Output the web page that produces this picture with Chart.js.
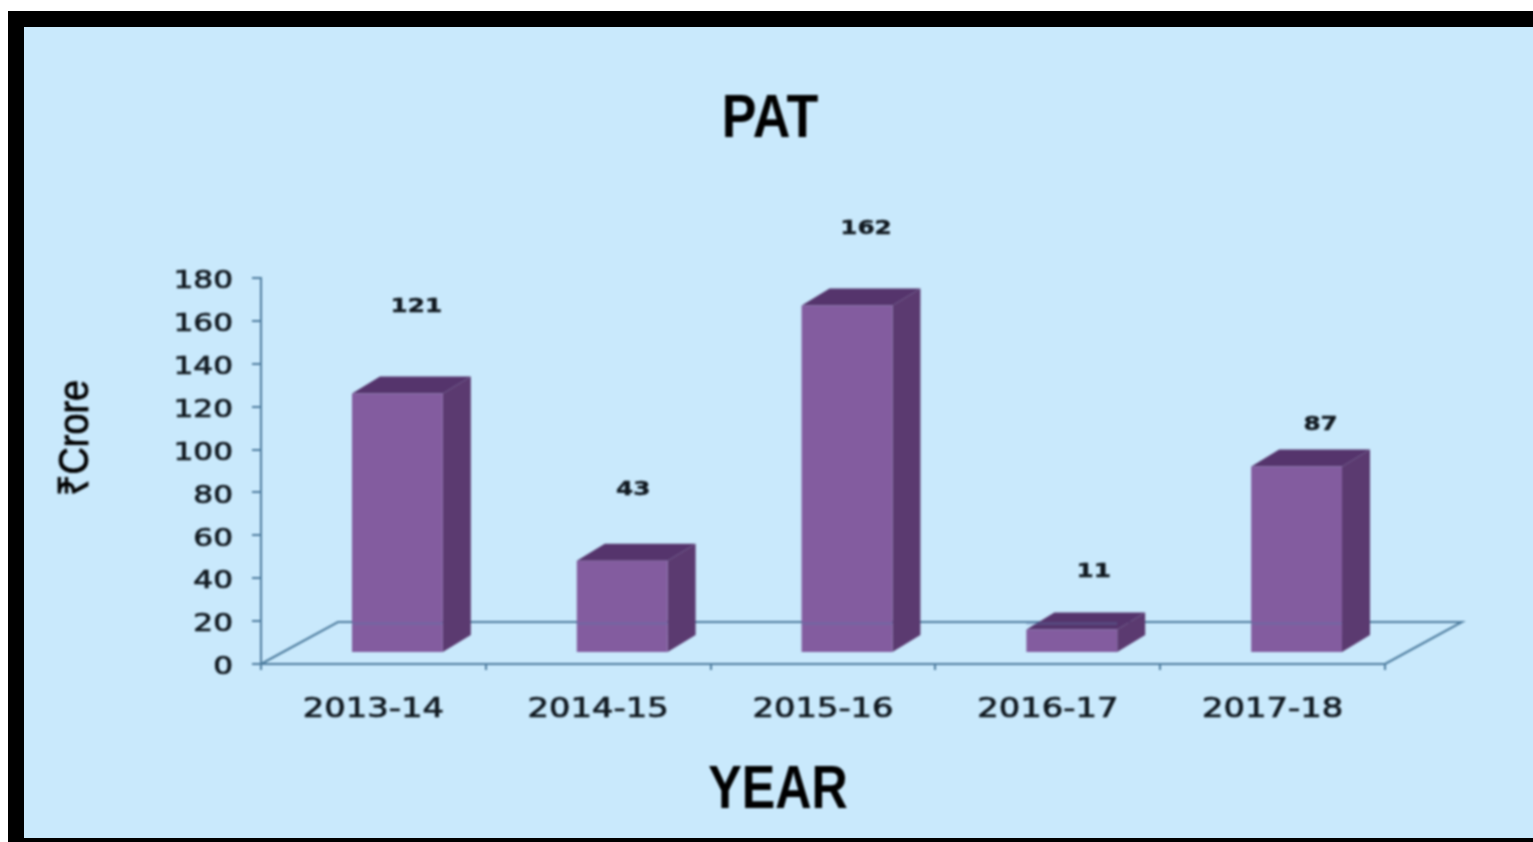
<!DOCTYPE html>
<html>
<head>
<meta charset="utf-8">
<title>PAT</title>
<script src="https://cdn.jsdelivr.net/npm/chart.js@4"></script>
<style>
  html, body { margin: 0; padding: 0; background: #fff; overflow: hidden; }
  #frame {
    position: absolute; left: 8px; top: 11px; width: 1525px; height: 831px;
    box-sizing: border-box;
    border-left: 16px solid #000; border-top: 16px solid #000; border-bottom: 4px solid #000;
    background: #c9e9fc;
  }
  #chart { position: absolute; left: 0; top: 0; filter: blur(0.8px); }
</style>
</head>
<body>
<div id="frame"></div>
<canvas id="chart" width="1533" height="842"></canvas>
<script>
const years = ['2013-14', '2014-15', '2015-16', '2016-17', '2017-18'];
const pat = [121, 43, 162, 11, 87];
const yTicks = [0, 20, 40, 60, 80, 100, 120, 140, 160, 180];

// the value labels float at uneven distances in the original
const labelShiftX = [43, 35, 43, 46, 48];
const labelShiftY = [97, 82, 88, 68, 52];

const axisColor = '#4d7c9e';
const inkColor = '#10181f';
const headFont = '"Liberation Sans", sans-serif';
const wideFont = '"DejaVu Sans", sans-serif';

// fake 3d: bars stand on a floor that is sheared back and to the right
const barShift = { x: 24, y: -11 };
const barDepth = { x: 28, y: -17 };
const floorDepth = { x: 77, y: -42 };

// the picture was stretched, so its text is wider or narrower than any installed font
function stretchText(ctx, sx, dy, weight) {
  const fillText = CanvasRenderingContext2D.prototype.fillText;
  ctx.fillText = function (text, x, y) {
    this.save();
    this.translate(x, y + dy);
    this.scale(sx, 1);
    fillText.call(this, text, 0, 0);
    if (weight) {
      this.strokeStyle = this.fillStyle;
      this.lineWidth = weight;
      this.strokeText(text, 0, 0);
    }
    this.restore();
  };
}
function plainText(ctx) {
  delete ctx.fillText;
}

const fake3d = {
  id: 'fake3d',
  beforeDraw(chart) {
    const block = chart.titleBlock;
    if (!block.narrowed) {
      const draw = block.draw;
      block.draw = function () {
        stretchText(chart.ctx, 0.84, 0);
        draw.call(block);
        plainText(chart.ctx);
      };
      block.narrowed = true;
    }
  },
  beforeDatasetsDraw(chart) {
    const { ctx, chartArea: a } = chart;
    ctx.save();
    ctx.strokeStyle = axisColor;
    ctx.lineWidth = 2;
    ctx.beginPath();
    ctx.moveTo(a.left, a.bottom);
    ctx.lineTo(a.left + floorDepth.x, a.bottom + floorDepth.y);
    ctx.lineTo(a.right + floorDepth.x, a.bottom + floorDepth.y);
    ctx.lineTo(a.right, a.bottom);
    ctx.stroke();
    ctx.restore();
  },
  beforeDatasetDraw(chart) {
    const ctx = chart.ctx;
    ctx.save();
    ctx.translate(barShift.x, barShift.y);
    chart.getDatasetMeta(0).data.forEach((bar) => {
      const l = bar.x - bar.width / 2;
      const r = bar.x + bar.width / 2;
      // top face
      ctx.fillStyle = '#55346c';
      ctx.beginPath();
      ctx.moveTo(l, bar.y);
      ctx.lineTo(l + barDepth.x, bar.y + barDepth.y);
      ctx.lineTo(r + barDepth.x, bar.y + barDepth.y);
      ctx.lineTo(r, bar.y);
      ctx.closePath();
      ctx.fill();
      // side face
      ctx.fillStyle = '#5b3a70';
      ctx.beginPath();
      ctx.moveTo(r, bar.y);
      ctx.lineTo(r + barDepth.x, bar.y + barDepth.y);
      ctx.lineTo(r + barDepth.x, bar.base + barDepth.y);
      ctx.lineTo(r, bar.base);
      ctx.closePath();
      ctx.fill();
    });
  },
  afterDatasetDraw(chart) {
    chart.ctx.restore();
  },
  afterDatasetsDraw(chart) {
    const { ctx, chartArea: a } = chart;
    // back edge of the floor shows faintly through the fronts
    ctx.save();
    chart.getDatasetMeta(0).data.forEach((bar) => {
      const l = bar.x - bar.width / 2 + barShift.x;
      ctx.fillStyle = 'rgba(90,120,170,0.3)';
      ctx.fillRect(l, a.bottom + floorDepth.y, bar.width, 3);
    });
    ctx.restore();
    // the tick labels (z 1) are drawn next and are stretched wide
    stretchText(ctx, 1.3, 4, 0.7);
  },
  afterDraw(chart) {
    const { ctx, scales } = chart;
    plainText(ctx);
    ctx.save();
    ctx.fillStyle = inkColor;
    ctx.textAlign = 'center';
    ctx.textBaseline = 'middle';

    stretchText(ctx, 1.3, 0, 0.4);
    ctx.font = 'bold 19px ' + wideFont;
    pat.forEach((v, i) => {
      ctx.fillText(String(v), scales.x.getPixelForValue(i) + labelShiftX[i], scales.y.getPixelForValue(v) - labelShiftY[i]);
    });

    ctx.fillStyle = '#000';
    stretchText(ctx, 0.81, 0);
    ctx.font = 'bold 62px ' + headFont;
    ctx.fillText('YEAR', 778, 791);

    stretchText(ctx, 0.9, 0, 0.8);
    ctx.font = '42px ' + headFont;
    ctx.translate(76, 438);
    ctx.rotate(-Math.PI / 2);
    ctx.fillText('₹Crore', 0, 0);
    plainText(ctx);
    ctx.restore();
  }
};

new Chart(document.getElementById('chart'), {
  type: 'bar',
  plugins: [fake3d],
  data: {
    labels: years,
    datasets: [{
      label: 'PAT',
      data: pat,
      backgroundColor: '#835c9f',
      barPercentage: 1,
      categoryPercentage: 0.404,
      clip: false
    }]
  },
  options: {
    responsive: false,
    animation: false,
    layout: { autoPadding: false, padding: { left: 155, right: 148, top: 0, bottom: 118 } },
    plugins: {
      legend: { display: false },
      tooltip: { enabled: false },
      title: {
        display: true,
        text: 'PAT',
        color: '#000',
        font: { family: headFont, size: 62, weight: 'bold', lineHeight: 1.2 },
        padding: { top: 83, bottom: 120.6 }
      }
    },
    scales: {
      x: {
        afterFit(scale) { scale.height = 60; },
        grid: { drawOnChartArea: false, color: axisColor, tickLength: 6, lineWidth: 2 },
        border: { color: axisColor, width: 2 },
        ticks: { color: inkColor, font: { family: wideFont, size: 26 }, padding: 21, maxRotation: 0, z: 1 }
      },
      y: {
        min: 0,
        max: 180,
        afterFit(scale) { scale.width = 106; },
        afterBuildTicks(scale) { scale.ticks = yTicks.map((value) => ({ value })); },
        grid: { drawOnChartArea: false, color: axisColor, tickLength: 9, lineWidth: 2 },
        border: { color: axisColor, width: 2 },
        ticks: { color: inkColor, font: { family: wideFont, size: 24 }, padding: 19, z: 1 }
      }
    }
  }
});
</script>
</body>
</html>
